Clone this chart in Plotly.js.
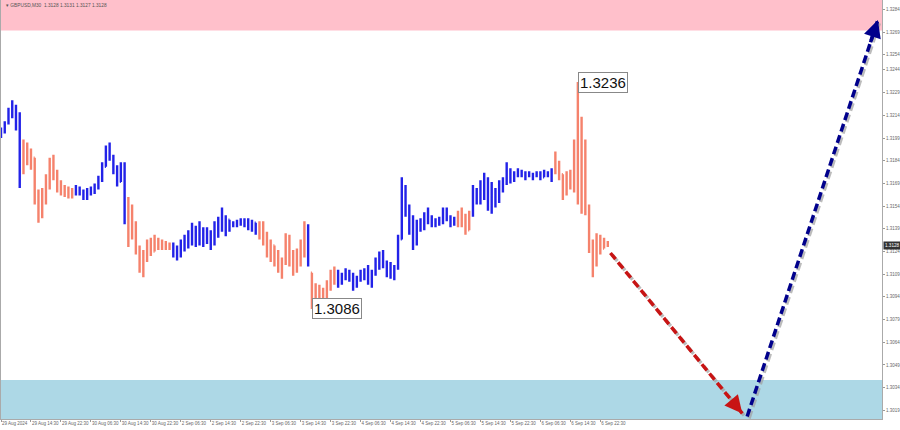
<!DOCTYPE html>
<html><head><meta charset="utf-8">
<script src="https://cdn.plot.ly/plotly-3.0.1.min.js"></script>
<style>html,body{margin:0;padding:0;background:#fff;}#chart{width:900px;height:430px;}</style>
</head><body><div id="chart"></div>
<script>
const symbolInfo = "GBPUSD,M30  1.3128 1.3131 1.3127 1.3128";
const timeLabels = ["29 Aug 2024","29 Aug 14:30","29 Aug 22:30","30 Aug 06:30","30 Aug 14:30","30 Aug 22:30","2 Sep 06:30","2 Sep 14:30","2 Sep 22:30","3 Sep 06:30","3 Sep 14:30","3 Sep 22:30","4 Sep 06:30","4 Sep 14:30","4 Sep 22:30","5 Sep 06:30","5 Sep 14:30","5 Sep 22:30","6 Sep 06:30","6 Sep 14:30","6 Sep 22:30"];
const labelEvery = 8;
const yTicks = [1.3019,1.3034,1.3049,1.3064,1.3079,1.3094,1.3109,1.3124,1.3139,1.3154,1.3169,1.3184,1.3199,1.3214,1.3229,1.3244,1.3254,1.3269,1.3284];
const yRange = [1.30133, 1.32902];
const xRange = [0, 235.2];
const lastPrice = 1.3128;

const opens = [1.3200,1.3204,1.3209,1.3217,1.3214,1.3215,1.3178,1.3192,1.3185,1.3186,
 1.3160,1.3148,1.3160,1.3170,1.3183,1.3176,1.3167,1.3165,1.3163,1.3164,
 1.3162,1.3166,1.3163,1.3160,1.3164,1.3165,1.3168,1.3172,1.3180,1.3191,
 1.3187,1.3178,1.3170,1.3180,1.3145,1.3152,1.3140,1.3125,1.3115,1.3120,
 1.3128,1.3124,1.3130,1.3127,1.3129,1.3126,1.3128,1.3122,1.3121,1.3129,
 1.3131,1.3136,1.3132,1.3138,1.3133,1.3136,1.3132,1.3130,1.3140,1.3143,
 1.3140,1.3145,1.3141,1.3143,1.3144,1.3143,1.3145,1.3141,1.3143,1.3137,
 1.3142,1.3133,1.3125,1.3128,1.3118,1.3114,1.3118,1.3132,1.3118,1.3112,
 1.3122,1.3128,1.3138,1.3110,1.3092,1.3098,1.3092,1.3097,1.3102,1.3108,
 1.3110,1.3104,1.3108,1.3111,1.3106,1.3101,1.3106,1.3110,1.3108,1.3104,
 1.3109,1.3117,1.3120,1.3115,1.3110,1.3113,1.3114,1.3132,1.3165,1.3150,
 1.3140,1.3130,1.3142,1.3140,1.3147,1.3146,1.3143,1.3145,1.3143,1.3151,
 1.3147,1.3142,1.3145,1.3148,1.3143,1.3138,1.3148,1.3165,1.3158,1.3168,
 1.3172,1.3155,1.3160,1.3157,1.3168,1.3170,1.3178,1.3172,1.3175,1.3177,
 1.3174,1.3176,1.3174,1.3175,1.3176,1.3173,1.3176,1.3175,1.3178,1.3183,
 1.3175,1.3162,1.3172,1.3168,1.3190,1.3170,1.3195,1.3152,1.3130,1.3115,
 1.3130,1.3126,1.3128];
const highs = [1.3206,1.3210,1.3219,1.3224,1.3221,1.3216,1.3198,1.3196,1.3192,1.3186,
 1.3165,1.3166,1.3175,1.3186,1.3188,1.3178,1.3171,1.3168,1.3167,1.3166,
 1.3168,1.3167,1.3165,1.3166,1.3167,1.3169,1.3174,1.3183,1.3194,1.3196,
 1.3188,1.3181,1.3183,1.3183,1.3160,1.3155,1.3144,1.3128,1.3125,1.3132,
 1.3133,1.3135,1.3133,1.3132,1.3131,1.3130,1.3130,1.3128,1.3132,1.3135,
 1.3138,1.3143,1.3141,1.3144,1.3140,1.3140,1.3138,1.3144,1.3147,1.3153,
 1.3148,1.3145,1.3144,1.3145,1.3146,1.3146,1.3146,1.3145,1.3143,1.3144,
 1.3144,1.3137,1.3132,1.3128,1.3125,1.3120,1.3136,1.3135,1.3125,1.3126,
 1.3132,1.3144,1.3142,1.3110,1.3103,1.3102,1.3100,1.3105,1.3112,1.3114,
 1.3112,1.3110,1.3113,1.3112,1.3110,1.3108,1.3112,1.3113,1.3115,1.3112,
 1.3120,1.3124,1.3125,1.3118,1.3117,1.3115,1.3135,1.3173,1.3168,1.3155,
 1.3148,1.3145,1.3146,1.3150,1.3153,1.3148,1.3146,1.3147,1.3153,1.3153,
 1.3148,1.3147,1.3151,1.3153,1.3149,1.3151,1.3168,1.3166,1.3171,1.3176,
 1.3173,1.3170,1.3166,1.3171,1.3173,1.3183,1.3179,1.3177,1.3179,1.3178,
 1.3177,1.3177,1.3176,1.3177,1.3177,1.3178,1.3177,1.3179,1.3190,1.3184,
 1.3175,1.3177,1.3178,1.3198,1.3236,1.3213,1.3198,1.3155,1.3132,1.3136,
 1.3135,1.3133,1.3131];
const lows = [1.3199,1.3202,1.3208,1.3212,1.3204,1.3166,1.3175,1.3181,1.3178,1.3155,
 1.3143,1.3146,1.3155,1.3165,1.3171,1.3163,1.3161,1.3160,1.3159,1.3159,
 1.3161,1.3161,1.3158,1.3158,1.3161,1.3162,1.3165,1.3170,1.3180,1.3184,
 1.3175,1.3167,1.3170,1.3142,1.3127,1.3132,1.3122,1.3110,1.3107,1.3117,
 1.3121,1.3124,1.3125,1.3125,1.3125,1.3125,1.3120,1.3118,1.3120,1.3124,
 1.3126,1.3128,1.3127,1.3128,1.3127,1.3129,1.3125,1.3128,1.3133,1.3137,
 1.3134,1.3137,1.3140,1.3140,1.3141,1.3140,1.3138,1.3137,1.3135,1.3132,
 1.3128,1.3120,1.3117,1.3114,1.3110,1.3106,1.3115,1.3114,1.3108,1.3110,
 1.3114,1.3120,1.3114,1.3086,1.3087,1.3089,1.3090,1.3087,1.3098,1.3102,
 1.3100,1.3102,1.3105,1.3104,1.3098,1.3100,1.3104,1.3105,1.3102,1.3100,
 1.3108,1.3112,1.3113,1.3107,1.3106,1.3105,1.3112,1.3132,1.3147,1.3135,
 1.3125,1.3128,1.3137,1.3138,1.3142,1.3140,1.3140,1.3141,1.3142,1.3144,
 1.3140,1.3141,1.3140,1.3140,1.3135,1.3138,1.3147,1.3155,1.3155,1.3158,
 1.3151,1.3149,1.3153,1.3156,1.3163,1.3168,1.3169,1.3170,1.3173,1.3173,
 1.3171,1.3173,1.3171,1.3173,1.3171,1.3173,1.3173,1.3170,1.3175,1.3171,
 1.3158,1.3161,1.3165,1.3163,1.3155,1.3149,1.3148,1.3123,1.3107,1.3114,
 1.3122,1.3126,1.3127];
const closes = [1.3205,1.3208,1.3217,1.3214,1.3218,1.3175,1.3192,1.3185,1.3188,1.3160,
 1.3148,1.3160,1.3170,1.3183,1.3176,1.3167,1.3165,1.3163,1.3164,1.3161,
 1.3166,1.3163,1.3160,1.3164,1.3165,1.3168,1.3172,1.3180,1.3191,1.3187,
 1.3178,1.3170,1.3180,1.3145,1.3152,1.3140,1.3125,1.3115,1.3120,1.3128,
 1.3124,1.3130,1.3127,1.3129,1.3126,1.3128,1.3122,1.3121,1.3129,1.3131,
 1.3136,1.3132,1.3138,1.3133,1.3136,1.3132,1.3130,1.3140,1.3143,1.3140,
 1.3145,1.3141,1.3143,1.3144,1.3143,1.3145,1.3141,1.3143,1.3137,1.3142,
 1.3133,1.3125,1.3128,1.3118,1.3114,1.3118,1.3132,1.3118,1.3112,1.3122,
 1.3128,1.3138,1.3116,1.3092,1.3098,1.3092,1.3097,1.3102,1.3108,1.3110,
 1.3104,1.3108,1.3111,1.3106,1.3101,1.3106,1.3110,1.3108,1.3104,1.3109,
 1.3117,1.3120,1.3115,1.3110,1.3113,1.3114,1.3132,1.3165,1.3150,1.3140,
 1.3130,1.3142,1.3140,1.3147,1.3146,1.3143,1.3145,1.3143,1.3151,1.3147,
 1.3142,1.3145,1.3148,1.3143,1.3138,1.3148,1.3165,1.3158,1.3168,1.3172,
 1.3155,1.3160,1.3157,1.3168,1.3170,1.3178,1.3172,1.3175,1.3177,1.3174,
 1.3176,1.3174,1.3175,1.3176,1.3173,1.3176,1.3175,1.3178,1.3183,1.3175,
 1.3162,1.3172,1.3168,1.3190,1.3170,1.3195,1.3152,1.3130,1.3115,1.3130,
 1.3126,1.3131,1.3128];

const waveStarts = [0,6,20,34,46,69,82,83,90,122,126,148];
const waveDirs = ["up","down","up","down","up","down","up","down","up","down","up","down"];
const waveColors = {up:"#2222e8", down:"#f5826c"};

const markBars = [154, 83];
const markPrices = [1.3236, 1.3086];

const resistZone = [1.3270, 1.3320];
const supportZone = [1.2990, 1.3039];

const downX = [162.7, 197.9];
const downY = [1.3123, 1.3017];
const upX = [199.2, 234.1];
const upY = [1.3015, 1.3277];

const idx = highs.map((_, i) => i);
function waveOf(i){ let w = 0; for (let k = 0; k < waveStarts.length; k++) if (i >= waveStarts[k]) w = k; return waveDirs[w]; }
function ohlcTrace(dir){
  const sel = idx.filter(i => waveOf(i) === dir);
  const c = waveColors[dir];
  return {type:"ohlc", x:sel, open:sel.map(i=>opens[i]), high:sel.map(i=>highs[i]),
    low:sel.map(i=>lows[i]), close:sel.map(i=>closes[i]), tickwidth:0.28,
    increasing:{line:{color:c, width:2.4}}, decreasing:{line:{color:c, width:2.4}},
    hoverinfo:"skip", showlegend:false};
}
const shDx = 0.5, shDy = -0.00013;
function arrowLine(xs, ys, color){
  return [
    {type:"scatter", mode:"lines", x:xs.map(v=>v+shDx), y:ys.map(v=>v+shDy),
     line:{color:"rgba(160,160,160,0.7)", width:3.5, dash:"8px,4px"}, hoverinfo:"skip", showlegend:false},
    {type:"scatter", mode:"lines", x:xs, y:ys,
     line:{color:color, width:3.5, dash:"8px,4px"}, hoverinfo:"skip", showlegend:false}
  ];
}
function headAnn(xs, ys, color){
  const f = 0.06;
  return {x:xs[1], y:ys[1], ax:xs[1]-(xs[1]-xs[0])*f, ay:ys[1]-(ys[1]-ys[0])*f,
    xref:"x", yref:"y", axref:"x", ayref:"y", text:"", showarrow:true,
    arrowhead:2, arrowsize:1, arrowwidth:3.5, arrowcolor:color, standoff:0};
}

const traces = [ohlcTrace("up"), ohlcTrace("down"),
  ...arrowLine(downX, downY, "#c81414"), ...arrowLine(upX, upY, "#00008c")];

const smallFont = "Liberation Sans, Arial";
const annotations = [
  {xref:"paper", yref:"paper", x:0.003, y:0.997, xanchor:"left", yanchor:"top", showarrow:false,
   text:"\u25BE " + symbolInfo, font:{family:smallFont, size:4.8, color:"#555"}},
  {xref:"paper", yref:"y", x:1, y:lastPrice, xanchor:"left", yanchor:"middle", showarrow:false, xshift:1,
   text:lastPrice.toFixed(4), bgcolor:"#333", borderpad:1, font:{family:smallFont, size:4.6, color:"#fff"}},
  headAnn(downX, downY, "#c81414"), headAnn(upX, upY, "#00008c")
];
markBars.forEach((b, k) => annotations.push({
  x:b, y:markPrices[k], xref:"x", yref:"y", xanchor:"left", yanchor:"middle", showarrow:false,
  text:markPrices[k].toFixed(4), bgcolor:"#fff", bordercolor:"#888", borderwidth:1, borderpad:1,
  font:{family:"Liberation Sans, Arial", size:15, color:"#111"}}));

const layout = {
  width:900, height:430, margin:{l:1, r:18, t:0, b:11},
  paper_bgcolor:"#fff", plot_bgcolor:"#fff", showlegend:false,
  xaxis:{range:xRange, type:"linear", rangeslider:{visible:false}, showgrid:false, zeroline:false,
    tickvals:timeLabels.map((_, k) => k*labelEvery), ticktext:timeLabels, ticklabelposition:"outside right",
    tickangle:0, automargin:false,
    ticks:"outside", ticklen:2, tickcolor:"#999", tickfont:{family:smallFont, size:4.5, color:"#666"},
    showline:true, linecolor:"#aaa", linewidth:1, fixedrange:true},
  yaxis:{range:yRange, side:"right", showgrid:false, zeroline:false, tickvals:yTicks, automargin:false,
    ticktext:yTicks.map(v=>v.toFixed(4)), ticks:"outside", ticklen:2, tickcolor:"#999",
    tickfont:{family:smallFont, size:4.5, color:"#666"}, showline:true, mirror:true,
    linecolor:"#aaa", linewidth:1, fixedrange:true},
  shapes:[
    {type:"rect", xref:"paper", yref:"y", x0:0, x1:1, y0:resistZone[0], y1:resistZone[1], fillcolor:"#ffc0cb", line:{width:0}, layer:"below"},
    {type:"rect", xref:"paper", yref:"y", x0:0, x1:1, y0:supportZone[0], y1:supportZone[1], fillcolor:"#add8e6", line:{width:0}, layer:"below"}
  ],
  annotations:annotations
};
Plotly.newPlot("chart", traces, layout, {displayModeBar:false, staticPlot:true});
</script></body></html>
